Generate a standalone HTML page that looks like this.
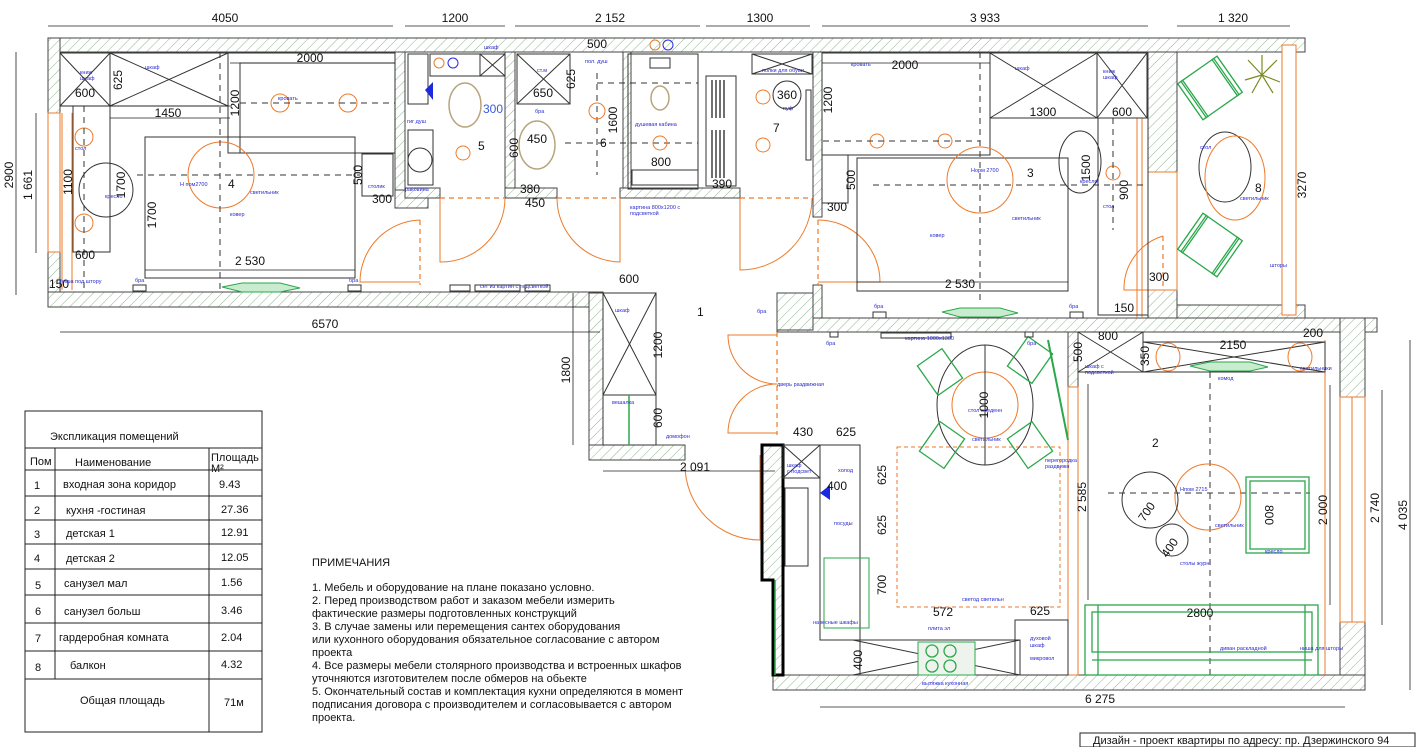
<!DOCTYPE html>
<html><head><meta charset="utf-8"><style>
html,body{margin:0;padding:0;background:#fff;}
svg{display:block;font-family:"Liberation Sans",sans-serif;}
.d{font-size:12px;fill:#111;}
.b{font-size:5.5px;fill:#2a2ad0;}
.w{fill:url(#h);stroke:#444;stroke-width:1;}
.k{fill:none;stroke:#333;stroke-width:1;}
.g{fill:none;stroke:#2aa84a;stroke-width:1.3;}
.o{fill:none;stroke:#ee7a2a;stroke-width:1;}
.od{fill:none;stroke:#ee7a2a;stroke-width:1.2;stroke-dasharray:5 4;}
.dl{stroke:#222;stroke-width:0.8;}
.dsh{stroke:#333;stroke-width:1;stroke-dasharray:6 5;}
.t{font-size:11px;fill:#111;}
</style></head><body>
<svg width="1416" height="747" viewBox="0 0 1416 747" xmlns="http://www.w3.org/2000/svg">
<defs>
<pattern id="h" patternUnits="userSpaceOnUse" width="7" height="7" patternTransform="rotate(45)">
<rect width="7" height="7" fill="#fff"/><line x1="0" y1="0" x2="0" y2="7" stroke="#8fb58f" stroke-width="1"/>
</pattern>
</defs>

<!-- ===== WALLS ===== -->
<rect class="w" x="48" y="38" width="1257" height="14"/>
<rect class="w" x="48" y="38" width="12" height="269"/>
<rect class="w" x="48" y="292" width="555" height="15"/>
<rect class="w" x="395" y="52" width="10" height="145"/>
<rect class="w" x="395" y="190" width="33" height="18"/>
<rect class="w" x="505" y="52" width="10" height="145"/>
<rect class="w" x="623" y="52" width="8" height="145"/>
<rect class="w" x="405" y="188" width="35" height="10"/>
<rect class="w" x="505" y="188" width="52" height="10"/>
<rect class="w" x="620" y="188" width="120" height="10"/>
<rect class="w" x="813" y="52" width="9" height="165"/>
<rect class="w" x="813" y="285" width="9" height="35"/>
<rect class="w" x="1148" y="52" width="29" height="120"/>
<rect class="w" x="1148" y="290" width="29" height="28"/>
<rect class="w" x="1177" y="305" width="128" height="13"/>
<rect class="w" x="777" y="318" width="600" height="14"/>
<rect class="w" x="777" y="293" width="36" height="37"/>
<rect class="w" x="1340" y="318" width="25" height="372"/>
<rect fill="#fff" stroke="#ee7a2a" x="1340" y="397" width="25" height="225"/>
<line class="o" x1="1352" y1="397" x2="1352" y2="622"/>
<rect class="w" x="773" y="675" width="592" height="15"/>
<rect class="w" x="1068" y="332" width="10" height="55"/>
<rect class="w" x="589" y="293" width="14" height="167"/>
<rect class="w" x="589" y="445" width="96" height="15"/>
<path class="w" d="M762 445 L783 445 L783 675 L773 675 L773 580 L762 580 Z" style="stroke:#000;stroke-width:3"/>
<!-- windows -->
<rect fill="#fff" stroke="#ee7a2a" x="48" y="113" width="12" height="139"/>
<line class="o" x1="62" y1="113" x2="62" y2="290"/><line class="o" x1="72" y1="113" x2="72" y2="290"/>
<rect fill="#fff" stroke="#ee7a2a" x="1148" y="172" width="29" height="118"/>
<line class="o" x1="1137" y1="118" x2="1137" y2="318"/><line class="o" x1="1142" y1="118" x2="1142" y2="318"/>
<rect fill="#fff" stroke="#ee7a2a" x="1282" y="45" width="14" height="270"/>
<rect fill="#fff" stroke="#ee7a2a" x="1068" y="387" width="10" height="288"/>
<line class="o" x1="1325" y1="340" x2="1325" y2="675"/>

<!-- ===== DOORS ===== -->
<line class="od" x1="420" y1="220" x2="420" y2="285"/>
<path class="o" d="M420 220 A62 62 0 0 0 360 282 L420 282"/>
<line class="od" x1="440" y1="198" x2="505" y2="198"/>
<path class="o" d="M440 198 L440 262 A64 64 0 0 0 505 198"/>
<line class="od" x1="557" y1="198" x2="620" y2="198"/>
<path class="o" d="M620 198 L620 262 A64 64 0 0 1 557 198"/>
<line class="od" x1="740" y1="198" x2="813" y2="198"/>
<path class="o" d="M740 198 L740 270 A72 72 0 0 0 812 198"/>
<line class="od" x1="818" y1="220" x2="818" y2="285"/>
<path class="o" d="M818 220 A62 62 0 0 1 880 282 L818 282"/>
<line class="od" x1="1163" y1="236" x2="1163" y2="290"/>
<path class="o" d="M1163 236 A55 55 0 0 0 1124 290 L1163 290"/>
<line class="od" x1="777" y1="332" x2="777" y2="435"/>
<path class="o" d="M777 335 L728 335 A49 49 0 0 0 777 384 A49 49 0 0 0 728 433 L777 433"/>
<path class="o" d="M685 465 A75 75 0 0 0 760 540 L760 455"/>

<!-- ===== ROOM 4 ===== -->
<rect class="k" x="60" y="53" width="50" height="53"/><path class="k" d="M60 53L110 106M110 53L60 106"/>
<rect class="k" x="110" y="53" width="118" height="53"/><path class="k" d="M110 53L228 106M228 53L110 106"/>
<rect class="k" x="228" y="53" width="167" height="100"/>
<rect class="k" x="240" y="63" width="155" height="90"/>
<rect class="k" x="145" y="137" width="210" height="141"/>
<rect class="k" x="362" y="154" width="31" height="42"/>
<rect class="k" x="73" y="106" width="37" height="146"/>
<circle class="k" cx="106" cy="190" r="27"/>
<circle class="o" cx="221" cy="175" r="33"/>
<circle class="o" cx="84" cy="137" r="9"/><circle class="o" cx="84" cy="223" r="9"/>
<circle class="o" cx="280" cy="103" r="9"/><circle class="o" cx="348" cy="103" r="9"/>
<line class="dsh" x1="137" y1="175" x2="360" y2="175"/><line class="dsh" x1="220" y1="52" x2="220" y2="290"/>
<line class="dsh" x1="240" y1="103" x2="395" y2="103"/><line class="dsh" x1="84" y1="106" x2="84" y2="290"/>
<path fill="#c9ebcf" stroke="#2aa84a" d="M222 287 L242 283 L280 283 L300 288 L280 292 L242 292 Z"/>
<rect class="k" x="133" y="285" width="13" height="6"/><rect class="k" x="348" y="285" width="13" height="6"/>

<!-- ===== ROOM 5 ===== -->
<rect class="k" x="408" y="54" width="20" height="50"/>
<rect class="k" x="430" y="54" width="75" height="22"/>
<rect class="k" x="480" y="54" width="25" height="22"/><path class="k" d="M480 54L505 76M505 54L480 76"/>
<ellipse cx="465" cy="105" rx="16" ry="22" fill="none" stroke="#b8a47a" stroke-width="1.5"/>
<rect x="408" y="130" width="25" height="55" class="k"/>
<circle cx="420" cy="160" r="12" fill="none" stroke="#333"/>
<polygon points="433,82 425,90 433,100" fill="#1a2ae0"/>
<circle cx="439" cy="63" r="5" fill="none" stroke="#e08030"/><circle cx="453" cy="63" r="5" fill="none" stroke="#2a2ae0"/>
<circle class="o" cx="463" cy="153" r="7"/>
<!-- ROOM 6 -->
<rect class="k" x="517" y="54" width="53" height="50"/><path class="k" d="M517 54L570 104M570 54L517 104"/>
<ellipse cx="537" cy="145" rx="18" ry="24" fill="none" stroke="#b8a47a" stroke-width="1.5"/>
<rect class="k" x="628" y="54" width="70" height="135"/>
<rect class="k" x="632" y="170" width="66" height="15"/>
<ellipse cx="660" cy="98" rx="9" ry="12" fill="none" stroke="#b8a47a" stroke-width="1.5"/>
<rect class="k" x="650" y="58" width="20" height="10"/>
<circle cx="655" cy="45" r="5" fill="none" stroke="#e08030"/><circle cx="668" cy="45" r="5" fill="none" stroke="#2a2ae0"/>
<line class="dsh" x1="597" y1="73" x2="597" y2="175"/><line class="dsh" x1="565" y1="143" x2="698" y2="143"/>
<line class="dsh" x1="597" y1="83" x2="698" y2="83"/>
<circle class="o" cx="597" cy="111" r="8"/><circle class="o" cx="660" cy="143" r="7"/>
<!-- ROOM 7 -->
<rect class="k" x="752" y="54" width="60" height="20"/><path class="k" d="M752 54L812 74M812 54L752 74"/>
<rect class="k" x="706" y="76" width="30" height="110"/>
<g stroke="#222" stroke-width="1.3"><line x1="712" y1="80" x2="712" y2="118"/><line x1="716" y1="80" x2="716" y2="118"/><line x1="720" y1="80" x2="720" y2="118"/><line x1="724" y1="80" x2="724" y2="118"/>
<line x1="712" y1="130" x2="712" y2="178"/><line x1="716" y1="130" x2="716" y2="178"/><line x1="720" y1="130" x2="720" y2="178"/><line x1="724" y1="130" x2="724" y2="178"/></g>
<circle class="k" cx="787" cy="95" r="14"/>
<circle class="o" cx="763" cy="97" r="7"/><circle class="o" cx="763" cy="145" r="7"/>
<rect class="k" x="806" y="90" width="5" height="70"/>

<!-- ===== ROOM 3 ===== -->
<rect class="k" x="822" y="53" width="168" height="102"/>
<rect class="k" x="822" y="155" width="26" height="48"/>
<rect class="k" x="990" y="53" width="107" height="65"/><path class="k" d="M990 53L1097 118M1097 53L990 118"/>
<rect class="k" x="1097" y="53" width="50" height="65"/><path class="k" d="M1097 53L1147 118M1147 53L1097 118"/>
<rect class="k" x="857" y="158" width="211" height="133"/>
<rect class="k" x="1098" y="118" width="50" height="197"/>
<ellipse class="k" cx="1080" cy="162" rx="21" ry="31"/>
<circle class="o" cx="980" cy="180" r="33"/>
<circle class="o" cx="877" cy="141" r="7"/><circle class="o" cx="945" cy="141" r="7"/>
<circle class="o" cx="1113" cy="173" r="7"/>
<line class="dsh" x1="823" y1="141" x2="980" y2="141"/><line class="dsh" x1="980" y1="52" x2="980" y2="300"/>
<line class="dsh" x1="873" y1="185" x2="1148" y2="185"/><line class="dsh" x1="1113" y1="118" x2="1113" y2="230"/>
<path fill="#c9ebcf" stroke="#2aa84a" d="M942 312 L960 308 L1000 308 L1018 313 L1000 317 L960 317 Z"/>
<rect class="k" x="873" y="312" width="13" height="6"/><rect class="k" x="1070" y="312" width="13" height="6"/>

<!-- ===== BALCONY ===== -->
<ellipse class="k" cx="1225" cy="167" rx="26" ry="35"/>
<ellipse class="o" cx="1235" cy="178" rx="30" ry="42"/>
<g transform="translate(1210,88) rotate(-35)"><rect class="g" x="-20" y="-22" width="40" height="44"/><rect class="g" x="-24" y="-22" width="6" height="44"/><rect class="g" x="18" y="-22" width="6" height="44"/></g>
<g transform="translate(1210,245) rotate(35)"><rect class="g" x="-20" y="-22" width="40" height="44"/><rect class="g" x="-24" y="-22" width="6" height="44"/><rect class="g" x="18" y="-22" width="6" height="44"/></g>
<g stroke="#7a8a20" stroke-width="1.2"><line x1="1262" y1="75" x2="1248" y2="60"/><line x1="1262" y1="75" x2="1277" y2="60"/><line x1="1262" y1="75" x2="1245" y2="80"/><line x1="1262" y1="75" x2="1280" y2="82"/><line x1="1262" y1="75" x2="1262" y2="55"/><line x1="1262" y1="75" x2="1252" y2="93"/><line x1="1262" y1="75" x2="1273" y2="93"/></g>

<!-- ===== CORRIDOR / HALL ===== -->
<rect class="k" x="603" y="293" width="53" height="102"/><path class="k" d="M603 293L656 395M656 293L603 395"/>
<rect class="k" x="603" y="395" width="53" height="50"/>
<line x1="629" y1="395" x2="629" y2="445" stroke="#2aa84a" stroke-width="1.5"/>
<rect class="k" x="450" y="285" width="20" height="6"/><rect class="k" x="475" y="285" width="45" height="6"/><rect class="k" x="525" y="285" width="25" height="6"/>

<!-- ===== KITCHEN ===== -->
<rect class="k" x="783" y="445" width="37" height="33"/><path class="k" d="M783 445L820 478M820 445L783 478"/>
<rect class="k" x="785" y="488" width="23" height="78"/>
<rect class="k" x="820" y="445" width="40" height="195"/>
<rect class="k" x="824" y="558" width="45" height="70" style="stroke:#2aa84a"/>
<line x1="775" y1="580" x2="775" y2="675" stroke="#2aa84a" stroke-width="1.5"/>
<rect class="k" x="860" y="640" width="160" height="35"/><path class="k" d="M853 640L1020 675M1020 640L853 675"/>
<rect x="918" y="642" width="57" height="33" fill="#eef3ee" stroke="#2aa84a"/>
<circle class="g" cx="932" cy="651" r="6"/><circle class="g" cx="950" cy="651" r="6"/><circle class="g" cx="932" cy="666" r="6"/><circle class="g" cx="950" cy="666" r="6"/>
<rect class="k" x="1015" y="620" width="53" height="55"/>
<polygon points="830,485 820,493 830,500" fill="#1a2ae0"/>
<rect class="o" x="897" y="447" width="163" height="160" style="stroke-dasharray:4 3"/>
<ellipse class="k" cx="985" cy="405" rx="48" ry="60"/>
<circle class="o" cx="985" cy="405" r="33"/>
<line class="k" x1="985" y1="345" x2="985" y2="465"/>
<g transform="translate(940,372) rotate(-35)"><rect class="g" x="-15" y="-18" width="30" height="36"/></g>
<g transform="translate(1030,360) rotate(35)"><rect class="g" x="-15" y="-18" width="30" height="36"/></g>
<g transform="translate(942,445) rotate(35)"><rect class="g" x="-15" y="-18" width="30" height="36"/></g>
<g transform="translate(1030,445) rotate(-35)"><rect class="g" x="-15" y="-18" width="30" height="36"/></g>
<line x1="1048" y1="340" x2="1068" y2="440" stroke="#2aa84a" stroke-width="2"/>
<rect class="k" x="881" y="333" width="70" height="5"/>
<rect class="k" x="830" y="332" width="8" height="5"/><rect class="k" x="1025" y="332" width="8" height="5"/>

<!-- ===== ROOM 2 ===== -->
<rect class="k" x="1078" y="332" width="65" height="40"/><path class="k" d="M1078 332L1143 372M1143 332L1078 372"/>
<rect class="k" x="1143" y="342" width="182" height="30"/><path class="k" d="M1143 342L1325 372M1325 342L1143 372"/>
<path fill="#c9ebcf" stroke="#2aa84a" d="M1190 366 L1210 362 L1250 362 L1268 367 L1250 371 L1210 371 Z"/>
<ellipse class="o" cx="1168" cy="357" rx="12" ry="14"/><ellipse class="o" cx="1300" cy="357" rx="12" ry="14"/>
<line class="dsh" x1="1210" y1="372" x2="1210" y2="675"/>
<line class="dsh" x1="1108" y1="493" x2="1310" y2="493"/>
<circle class="o" cx="1208" cy="497" r="33"/>
<circle class="k" cx="1150" cy="500" r="28"/>
<circle class="k" cx="1172" cy="540" r="16"/>
<rect class="g" x="1246" y="477" width="63" height="76"/><rect class="g" x="1250" y="481" width="55" height="68"/>
<rect class="g" x="1085" y="605" width="233" height="70"/>
<rect class="g" x="1092" y="612" width="220" height="40"/>
<line class="g" x1="1098" y1="605" x2="1098" y2="675"/><line class="g" x1="1305" y1="605" x2="1305" y2="675"/>
<line class="g" x1="1092" y1="660" x2="1312" y2="660"/>

<!-- ===== DIMENSIONS ===== -->
<g class="dl">
<line x1="48" y1="26" x2="393" y2="26"/><line x1="405" y1="26" x2="505" y2="26"/><line x1="515" y1="26" x2="700" y2="26"/>
<line x1="706" y1="26" x2="810" y2="26"/><line x1="822" y1="26" x2="1148" y2="26"/><line x1="1177" y1="26" x2="1290" y2="26"/>
<line x1="16" y1="52" x2="16" y2="295"/><line x1="36" y1="113" x2="36" y2="253"/>
<line x1="60" y1="332" x2="600" y2="332"/><line x1="573" y1="293" x2="573" y2="445"/>
<line x1="603" y1="471" x2="775" y2="471"/><line x1="820" y1="707" x2="1345" y2="707"/>
<line x1="1410" y1="340" x2="1410" y2="690"/><line x1="1382" y1="390" x2="1382" y2="625"/>
<line x1="1330" y1="385" x2="1330" y2="605"/><line x1="1088" y1="384" x2="1088" y2="600"/>
<line x1="60" y1="106" x2="230" y2="106"/><line x1="110" y1="118" x2="230" y2="118"/><line x1="230" y1="63" x2="395" y2="63"/>
<line x1="145" y1="270" x2="355" y2="270"/><line x1="857" y1="282" x2="1068" y2="282"/><line x1="822" y1="63" x2="990" y2="63"/>
</g>
<g class="d">
<text x="225" y="22" text-anchor="middle">4050</text><text x="455" y="22" text-anchor="middle">1200</text>
<text x="610" y="22" text-anchor="middle">2 152</text><text x="760" y="22" text-anchor="middle">1300</text>
<text x="985" y="22" text-anchor="middle">3 933</text><text x="1233" y="22" text-anchor="middle">1 320</text>
<text transform="translate(13,175) rotate(-90)" text-anchor="middle">2900</text>
<text transform="translate(32,185) rotate(-90)" text-anchor="middle">1 661</text>
<text x="325" y="328" text-anchor="middle">6570</text>
<text transform="translate(570,370) rotate(-90)" text-anchor="middle">1800</text>
<text x="695" y="471" text-anchor="middle">2 091</text>
<text x="1100" y="703" text-anchor="middle">6 275</text>
<text transform="translate(1407,515) rotate(-90)" text-anchor="middle">4 035</text>
<text transform="translate(1379,508) rotate(-90)" text-anchor="middle">2 740</text>
<text transform="translate(1327,510) rotate(-90)" text-anchor="middle">2 000</text>
<text transform="translate(1086,497) rotate(-90)" text-anchor="middle">2 585</text>
<text x="310" y="62" text-anchor="middle">2000</text><text x="168" y="117" text-anchor="middle">1450</text>
<text x="85" y="97" text-anchor="middle">600</text><text transform="translate(122,80) rotate(-90)" text-anchor="middle">625</text>
<text transform="translate(239,103) rotate(-90)" text-anchor="middle">1200</text>
<text transform="translate(72,182) rotate(-90)" text-anchor="middle">1100</text>
<text transform="translate(125,185) rotate(-90)" text-anchor="middle">1700</text>
<text transform="translate(156,215) rotate(-90)" text-anchor="middle">1700</text>
<text transform="translate(362,175) rotate(-90)" text-anchor="middle">500</text>
<text x="85" y="259" text-anchor="middle">600</text><text x="250" y="265" text-anchor="middle">2 530</text>
<text x="382" y="203" text-anchor="middle">300</text><text x="49" y="288">150</text>
<text x="483" y="113" style="fill:#3a5ae0">300</text>
<text x="597" y="48" text-anchor="middle">500</text><text x="543" y="97" text-anchor="middle">650</text>
<text transform="translate(575,79) rotate(-90)" text-anchor="middle">625</text>
<text transform="translate(617,120) rotate(-90)" text-anchor="middle">1600</text>
<text x="537" y="143" text-anchor="middle">450</text><text transform="translate(518,148) rotate(-90)" text-anchor="middle">600</text>
<text x="530" y="193" text-anchor="middle">380</text><text x="535" y="207" text-anchor="middle">450</text>
<text x="661" y="166" text-anchor="middle">800</text>
<text x="787" y="99" text-anchor="middle">360</text><text x="722" y="188" text-anchor="middle">390</text>
<text x="905" y="69" text-anchor="middle">2000</text><text transform="translate(832,100) rotate(-90)" text-anchor="middle">1200</text>
<text x="1043" y="116" text-anchor="middle">1300</text><text x="1122" y="116" text-anchor="middle">600</text>
<text transform="translate(1090,168) rotate(-90)" text-anchor="middle">1500</text>
<text transform="translate(1128,190) rotate(-90)" text-anchor="middle">900</text>
<text transform="translate(855,180) rotate(-90)" text-anchor="middle">500</text>
<text x="837" y="211" text-anchor="middle">300</text><text x="960" y="288" text-anchor="middle">2 530</text>
<text x="1159" y="281" text-anchor="middle">300</text><text x="1124" y="312" text-anchor="middle">150</text>
<text transform="translate(1306,185) rotate(-90)" text-anchor="middle">3270</text>
<text x="629" y="283" text-anchor="middle">600</text>
<text transform="translate(662,345) rotate(-90)" text-anchor="middle">1200</text>
<text transform="translate(662,418) rotate(-90)" text-anchor="middle">600</text>
<text x="803" y="436" text-anchor="middle">430</text><text x="846" y="436" text-anchor="middle">625</text>
<text x="837" y="490" text-anchor="middle">400</text>
<text transform="translate(886,475) rotate(-90)" text-anchor="middle">625</text>
<text transform="translate(886,525) rotate(-90)" text-anchor="middle">625</text>
<text transform="translate(886,585) rotate(-90)" text-anchor="middle">700</text>
<text transform="translate(862,660) rotate(-90)" text-anchor="middle">400</text>
<text x="943" y="616" text-anchor="middle">572</text><text x="1040" y="615" text-anchor="middle">625</text>
<text transform="translate(988,405) rotate(-90)" text-anchor="middle">1000</text>
<text x="1108" y="340" text-anchor="middle">800</text><text x="1233" y="349" text-anchor="middle">2150</text>
<text x="1313" y="337" text-anchor="middle">200</text>
<text transform="translate(1082,352) rotate(-90)" text-anchor="middle">500</text>
<text transform="translate(1149,356) rotate(-90)" text-anchor="middle">350</text>
<text transform="translate(1150,514) rotate(-55)" text-anchor="middle">700</text>
<text transform="translate(1173,550) rotate(-55)" text-anchor="middle">400</text>
<text transform="translate(1265,515) rotate(90)" text-anchor="middle">800</text>
<text x="1200" y="617" text-anchor="middle">2800</text>
</g>
<!-- room numbers -->
<g style="font-size:12px;fill:#111">
<text x="228" y="188">4</text><text x="478" y="150">5</text><text x="600" y="147">6</text><text x="773" y="132">7</text>
<text x="1027" y="177">3</text><text x="1255" y="192">8</text><text x="697" y="316">1</text><text x="1152" y="447">2</text>
</g>
<!-- blue labels -->
<g class="b">
<text x="145" y="69">шкаф</text><text x="80" y="74">книж</text><text x="80" y="80">шкаф</text><text x="278" y="100">кровать</text>
<text x="75" y="150">стол</text><text x="105" y="198">кресло</text><text x="180" y="186">Н пом2700</text>
<text x="250" y="194">светильник</text><text x="230" y="216">ковер</text><text x="60" y="283">ниша под штору</text>
<text x="135" y="282">бра</text><text x="349" y="282">бра</text><text x="368" y="188">столик</text>
<text x="407" y="123">гиг душ</text><text x="405" y="191">раковина</text><text x="484" y="49">шкаф</text>
<text x="537" y="72">ст.м</text><text x="585" y="63">пол. душ</text><text x="535" y="113">бра</text>
<text x="635" y="126">душевая кабина</text><text x="630" y="209">картина 800х1200 с</text><text x="630" y="215">подсветкой</text>
<text x="762" y="72">полки для обуви</text><text x="783" y="110">пуф</text><text x="480" y="288">сет из картин с подсветкой</text>
<text x="851" y="66">кровать</text><text x="1015" y="70">шкаф</text><text x="1103" y="73">книж</text><text x="1103" y="79">шкаф</text>
<text x="971" y="172">Норм 2700</text><text x="1012" y="220">светильник</text><text x="930" y="237">ковер</text>
<text x="1080" y="183">кресло</text><text x="1103" y="208">стол</text><text x="1240" y="200">светильник</text>
<text x="1200" y="149">стол</text><text x="1270" y="267">шторы</text><text x="874" y="308">бра</text><text x="1069" y="308">бра</text>
<text x="757" y="313">бра</text><text x="615" y="312">шкаф</text><text x="612" y="404">вешалка</text><text x="666" y="438">домофон</text>
<text x="777" y="386">дверь раздвижная</text><text x="826" y="345">бра</text><text x="1027" y="345">бра</text>
<text x="905" y="340">картина 1000х1300</text><text x="968" y="412">стол обеденн</text><text x="972" y="441">светильник</text>
<text x="1045" y="462">перегородка</text><text x="1045" y="468">раздвижн</text><text x="787" y="467">шкаф</text><text x="787" y="473">с подсвет</text>
<text x="838" y="472">холод</text><text x="834" y="525">посуды</text><text x="813" y="624">навесные шкафы</text>
<text x="962" y="601">светод светильн</text><text x="928" y="630">плита эл</text><text x="922" y="685">вытяжка кухонная</text>
<text x="1030" y="640">духовой</text><text x="1030" y="647">шкаф</text><text x="1030" y="660">микровол</text>
<text x="1085" y="368">шкаф с</text><text x="1085" y="374">подсветкой</text><text x="1218" y="380">комод</text><text x="1300" y="370">светильники</text>
<text x="1180" y="491">Нпом 2715</text><text x="1215" y="527">светильник</text><text x="1180" y="565">столы журн</text>
<text x="1265" y="553">кресло</text><text x="1220" y="650">диван раскладной</text><text x="1300" y="650">ниша для шторы</text>
</g>

<!-- ===== TABLE ===== -->
<g stroke="#222" stroke-width="1" fill="none">
<rect x="25" y="411" width="237" height="321"/>
<line x1="25" y1="448" x2="262" y2="448"/><line x1="25" y1="470" x2="262" y2="470"/>
<line x1="25" y1="496" x2="262" y2="496"/><line x1="25" y1="520" x2="262" y2="520"/>
<line x1="25" y1="544" x2="262" y2="544"/><line x1="25" y1="569" x2="262" y2="569"/>
<line x1="25" y1="595" x2="262" y2="595"/><line x1="25" y1="623" x2="262" y2="623"/>
<line x1="25" y1="651" x2="262" y2="651"/><line x1="25" y1="679" x2="262" y2="679"/>
<line x1="55" y1="448" x2="55" y2="679"/><line x1="209" y1="448" x2="209" y2="732"/>
</g>
<g class="t">
<text x="50" y="440">Экспликация помещений</text>
<text x="30" y="465">Пом</text><text x="75" y="466">Наименование</text><text x="211" y="461">Площадь</text><text x="211" y="472">М²</text>
<text x="34" y="489">1</text><text x="63" y="488">входная зона коридор</text><text x="219" y="488">9.43</text>
<text x="34" y="514">2</text><text x="66" y="514">кухня -гостиная</text><text x="221" y="513">27.36</text>
<text x="34" y="538">3</text><text x="66" y="537">детская 1</text><text x="221" y="536">12.91</text>
<text x="34" y="562">4</text><text x="66" y="562">детская 2</text><text x="221" y="561">12.05</text>
<text x="35" y="589">5</text><text x="64" y="587">санузел мал</text><text x="221" y="586">1.56</text>
<text x="35" y="615">6</text><text x="64" y="615">санузел больш</text><text x="221" y="614">3.46</text>
<text x="35" y="642">7</text><text x="59" y="641">гардеробная комната</text><text x="221" y="641">2.04</text>
<text x="35" y="671">8</text><text x="70" y="669">балкон</text><text x="221" y="668">4.32</text>
<text x="80" y="704">Общая площадь</text><text x="224" y="706">71м</text>
</g>

<!-- ===== NOTES ===== -->
<g class="t">
<text x="312" y="566">ПРИМЕЧАНИЯ</text>
<text x="312" y="591">1. Мебель и оборудование на плане показано условно.</text>
<text x="312" y="604">2. Перед производством работ и заказом мебели измерить</text>
<text x="312" y="617">фактические размеры подготовленных конструкций</text>
<text x="312" y="630">3. В случае замены или перемещения сантех оборудования</text>
<text x="312" y="643">или кухонного оборудования обязательное согласование с автором</text>
<text x="312" y="656">проекта</text>
<text x="312" y="669">4. Все размеры мебели столярного производства и встроенных шкафов</text>
<text x="312" y="682">уточняются изготовителем после обмеров на обьекте</text>
<text x="312" y="695">5. Окончательный состав и комплектация кухни определяются в момент</text>
<text x="312" y="708">подписания договора с производителем и согласовывается с автором</text>
<text x="312" y="721">проекта.</text>
</g>
<rect x="1080" y="733" width="335" height="14" fill="#fff" stroke="#222"/>
<text x="1093" y="744" class="t">Дизайн - проект квартиры по адресу: пр. Дзержинского 94</text>
</svg>
</body></html>
